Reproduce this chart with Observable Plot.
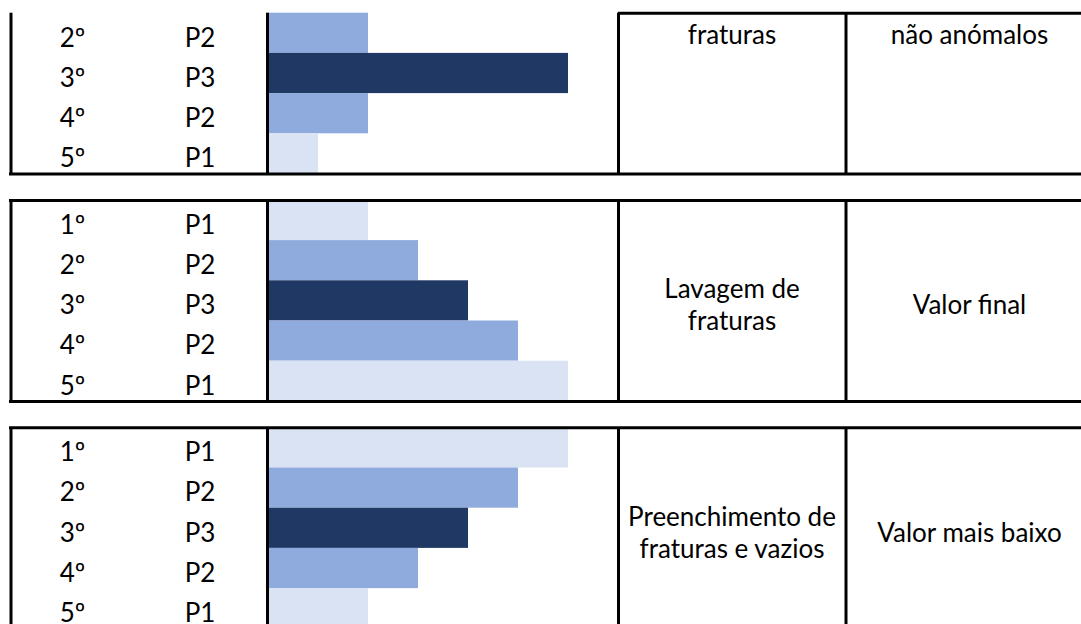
<!DOCTYPE html>
<html><head><meta charset="utf-8">
<script src="https://cdn.jsdelivr.net/npm/d3@7"></script>
<script src="https://cdn.jsdelivr.net/npm/@observablehq/plot@0.6"></script>
<style>html,body{margin:0;padding:0;background:#fff;overflow:hidden}#chart{width:1081px;height:624px;overflow:hidden}</style>
</head><body><div id="chart"></div>
<script>
// ---- data ----
const orders = ["1º", "2º", "3º", "4º", "5º"];
const phases = ["P1", "P2", "P3", "P2", "P1"];
const block1Values = [null, 2, 6, 2, 1]; // first row is cut off in the source
const block2Values = [2, 3, 4, 5, 6];
const block3Values = [6, 5, 4, 3, 2];
const processLabels = ["fraturas", "Lavagem de\nfraturas", "Preenchimento de\nfraturas e vazios"];
const resultLabels = ["não anómalos", "Valor final", "Valor mais baixo"];
const phaseNames = ["P1", "P2", "P3"];
const phaseColors = ["#DAE3F3", "#8FAADC", "#203864"];

// ---- layout (pixels) ----
const W = 1081, H = 624;
const ROW = 40.2, PERIOD = 227.4, TOP0 = -27.5;
const BAR0 = 268, UNIT = 50;
const COL = {left: 10.5, bar: 267, proc: 618, res: 845.5, right: 1095, start: 9};
const TX = {order: 72, phase: 199.5, proc: 731.5, res: 969};
const FS = 26;

const blockPeriod = PERIOD / ROW;
const uAt = px => (px - TOP0) / ROW;
const xAt = px => (px - BAR0) / UNIT;

const allValues = [block1Values, block2Values, block3Values];
const rows = [];
allValues.forEach((vals, b) => vals.forEach((v, r) => {
  if (v != null) rows.push({block: b, row: r, order: orders[r], phase: phases[r], value: v, u: b * blockPeriod + r});
}));
const blocks = allValues.map((vals, b) => {
  const first = vals.findIndex(v => v != null);
  const base = b * blockPeriod;
  return {block: b, first, top: base + first, bottom: base + vals.length,
          labelY: first > 0 ? base + first + 0.5 : base + vals.length / 2,
          cut: first > 0, proc: processLabels[b], res: resultLabels[b]};
});

const hLines = [];
blocks.forEach(bk => {
  hLines.push({y: bk.top, x1: bk.cut ? COL.proc : COL.start});
  hLines.push({y: bk.bottom, x1: COL.start});
});
const vLines = [];
blocks.forEach(bk => {
  for (const k of ["left", "bar", "proc", "res"]) vLines.push({x: COL[k], y1: bk.top, y2: bk.bottom});
});

const textOpts = {fontSize: FS, fill: "black", lineHeight: 1.23, textAnchor: "middle"};
const fullBlocks = blocks.filter(b => !b.cut);
const cutBlocks = blocks.filter(b => b.cut);

const chart = Plot.plot({
  width: W, height: H,
  marginTop: 0, marginBottom: 0, marginLeft: 0, marginRight: 0,
  style: {fontFamily: "Lato, 'Open Sans', sans-serif", background: "white", overflow: "hidden"},
  x: {domain: [xAt(0), xAt(W)], range: [0, W], axis: null},
  y: {domain: [uAt(0), uAt(H)], range: [0, H], axis: null},
  color: {domain: phaseNames, range: phaseColors},
  marks: [
    Plot.rectX(rows, {x1: 0, x2: "value", y1: "u", y2: d => d.u + 1, fill: "phase", inset: 0}),
    Plot.text(rows, {...textOpts, x: xAt(TX.order), y: d => d.u + 0.5, text: "order", dy: 3}),
    Plot.text(rows, {...textOpts, x: xAt(TX.phase), y: d => d.u + 0.5, text: "phase", dy: 3}),
    Plot.text(cutBlocks, {...textOpts, x: xAt(TX.proc), y: "labelY", text: "proc", dy: 0}),
    Plot.text(cutBlocks, {...textOpts, x: xAt(TX.res), y: "labelY", text: "res", dy: 0}),
    Plot.text(fullBlocks, {...textOpts, x: xAt(TX.proc), y: "labelY", text: "proc", dy: 3}),
    Plot.text(fullBlocks, {...textOpts, x: xAt(TX.res), y: "labelY", text: "res", dy: 3}),
    Plot.ruleX(vLines, {x: d => xAt(d.x), y1: "y1", y2: "y2", stroke: "black", strokeWidth: 3}),
    Plot.ruleY(hLines, {y: "y", x1: d => xAt(d.x1), x2: xAt(COL.right), stroke: "black", strokeWidth: 3})
  ]
});
document.getElementById("chart").append(chart);
</script>
</body></html>
